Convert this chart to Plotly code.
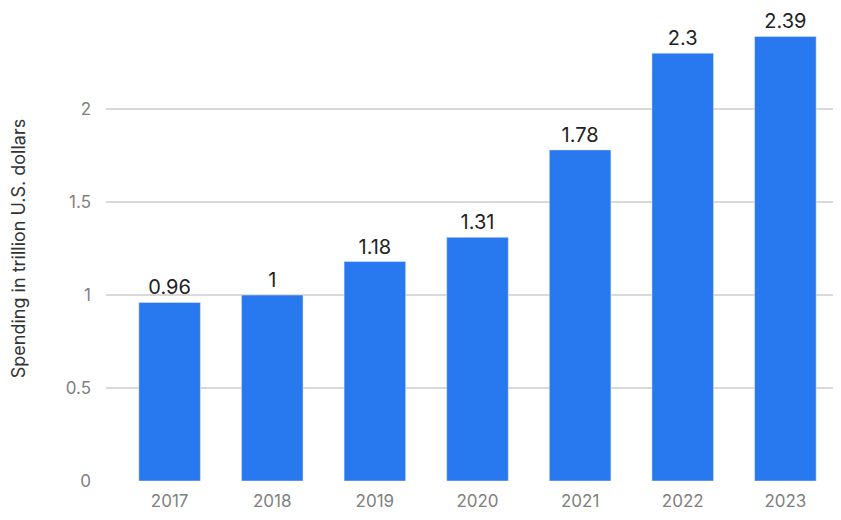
import plotly.graph_objects as go

years = ["2017", "2018", "2019", "2020", "2021", "2022", "2023"]
spending = [0.96, 1, 1.18, 1.31, 1.78, 2.3, 2.39]
labels = ["0.96", "1", "1.18", "1.31", "1.78", "2.3", "2.39"]

fig = go.Figure(go.Bar(
    x=list(range(len(years))), y=spending,
    text=labels, textposition="outside", cliponaxis=False,
    textfont=dict(size=20, color="#222222"),
    marker=dict(color="#2878f0"),
))

fig.update_layout(
    width=841, height=520,
    margin=dict(l=98, r=0, t=8, b=47, pad=0),
    plot_bgcolor="white", paper_bgcolor="white",
    font=dict(family="Inter, Lato, sans-serif", color="#808080", size=17),
    bargap=0.4, showlegend=False,
)
fig.update_xaxes(
    tickvals=list(range(len(years))), ticktext=years,
    range=[-0.62, 6.62], showgrid=False, showline=False, zeroline=False,
    ticks="", ticklabelstandoff=8,
)
fig.update_yaxes(
    range=[0, 2.5], dtick=0.5, tickformat="~g",
    gridcolor="#d9d9d9", gridwidth=1.5, zeroline=False,
    title=dict(text="Spending in trillion U.S. dollars", font=dict(size=18, color="#333333"), standoff=40),
    ticklabelstandoff=14,
)

fig.write_html("out.html")
